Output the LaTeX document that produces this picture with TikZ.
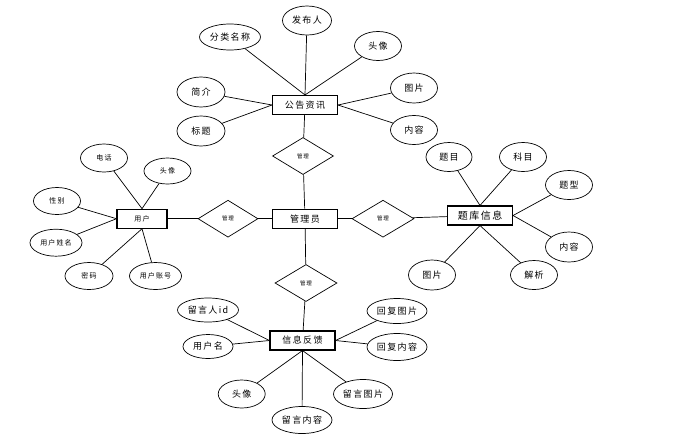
\documentclass[tikz,border=0pt]{standalone}
\usepackage{fontspec}
\setmainfont{Noto Sans CJK SC}[LetterSpace=15]
\usetikzlibrary{shapes.geometric}
\newcommand\bigtxt{\fontsize{9}{10}\selectfont}
\newcommand\smalltxt{\fontsize{7}{8}\selectfont}
\tikzset{
	attr/.style = {draw, ellipse, inner sep=0pt, line width=0.7pt, minimum width=47pt, minimum height=29pt, font=\bigtxt},
	ent/.style = {draw, rectangle, inner sep=0pt, line width=1.1pt, minimum width=65pt, minimum height=19pt, font=\bigtxt},
	rel/.style = {draw, diamond, inner sep=0pt, line width=0.7pt, minimum width=61pt, minimum height=37pt, font=\fontsize{5.5}{6}\selectfont},
	link/.style = {line width=0.7pt}
}
\begin{document}
\begin{tikzpicture}[x=1pt, y=-1pt]
	\useasboundingbox (0,0) rectangle (676,440);
	%center
	\node[ent] (gly) at (305,218.7) {管理员};
	\node[rel] (r1) at (303,156) {管理};
	\node[rel, minimum width=60pt] (r2) at (228,218.7) {管理};
	\node[rel, minimum width=62pt] (r3) at (383,218.7) {管理};
	\node[rel, minimum width=62pt] (r4) at (306,283) {管理};
	
	%公告资讯
	\node[ent] (gg) at (305,105) {公告资讯};
	\node[attr, minimum width=49pt] (gg1) at (307,20.5) {发布人};
	\node[attr, minimum width=61pt, minimum height=26pt] (gg2) at (230,37) {分类名称};
	\node[attr] (gg3) at (378,46) {头像};
	\node[attr, minimum height=30pt] (gg4) at (414,88) {图片};
	\node[attr] (gg5) at (414,130) {内容};
	\node[attr, minimum width=48pt, minimum height=30pt] (gg6) at (201,92) {简介};
	\node[attr, minimum width=48pt, minimum height=30pt] (gg7) at (201,131) {标题};
	\foreach \a in {gg1, gg2, gg3}
	\draw[link] (\a) -- (gg.north);
	\foreach \a in {gg4, gg5}
	\draw[link] (\a) -- (gg.east);
	\foreach \a in {gg6, gg7}
	\draw[link] (\a) -- (gg.west);
	
	%用户
	\node[ent, minimum width=50pt, font=\smalltxt] (yh) at (142,218.7) {用户};
	\node[attr, minimum height=28pt, font=\smalltxt] (yh1) at (104,158) {电话};
	\node[attr, minimum height=26pt, font=\smalltxt] (yh2) at (167.5,171) {头像};
	\node[attr, minimum height=27pt, font=\smalltxt] (yh3) at (57,201) {性别};
	\node[attr, minimum width=52pt, minimum height=27pt, font=\smalltxt] (yh4) at (56,242.7) {用户姓名};
	\node[attr, minimum width=48pt, minimum height=27pt, font=\smalltxt] (yh5) at (89,276) {密码};
	\node[attr, minimum width=52pt, minimum height=27pt, font=\smalltxt] (yh6) at (155.5,276) {用户账号};
	\foreach \a in {yh1, yh2}
	\draw[link] (\a) -- (yh.north);
	\foreach \a in {yh3, yh4}
	\draw[link] (\a) -- (yh.west);
	\foreach \a in {yh5, yh6}
	\draw[link] (\a) -- (yh.south);
	
	%题库信息
	\node[ent, font=\fontsize{10}{11}\selectfont] (tk) at (480,215.5) {题库信息};
	\node[attr, minimum width=46pt] (tk1) at (449,157) {题目};
	\node[attr] (tk2) at (523,157) {科目};
	\node[attr] (tk3) at (569,185) {题型};
	\node[attr, minimum height=30pt] (tk4) at (569,247) {内容};
	\node[attr, minimum height=30pt] (tk5) at (432,275) {图片};
	\node[attr] (tk6) at (534,275) {解析};
	\foreach \a in {tk1, tk2}
	\draw[link] (\a) -- (tk.north);
	\foreach \a in {tk3, tk4}
	\draw[link] (\a) -- (tk.east);
	\foreach \a in {tk5, tk6}
	\draw[link] (\a) -- (tk.south);
	
	%信息反馈
	\node[ent] (fk) at (302.5,340.5) {信息反馈};
	\node[attr, minimum width=61pt, minimum height=24pt] (fk1) at (208,310) {留言人id};
	\node[attr, minimum width=50pt, minimum height=24pt] (fk2) at (208,346.5) {用户名};
	\node[attr, minimum width=60pt, minimum height=25pt] (fk3) at (397,311) {回复图片};
	\node[attr, minimum width=60pt, minimum height=27pt] (fk4) at (397,347) {回复内容};
	\node[attr, minimum height=28pt] (fk5) at (241.7,394) {头像};
	\node[attr, minimum width=59pt] (fk6) at (363,394) {留言图片};
	\node[attr, minimum width=60pt, minimum height=27pt] (fk7) at (302,420) {留言内容};
	\foreach \a in {fk1, fk2}
	\draw[link] (\a) -- (fk.west);
	\foreach \a in {fk3, fk4}
	\draw[link] (\a) -- (fk.east);
	\foreach \a in {fk5, fk6, fk7}
	\draw[link] (\a) -- (fk.south);
	
	%relations
	\draw[link] (gg) -- (r1);
	\draw[link] (r1) -- (gly);
	\draw[link] (yh) -- (r2);
	\draw[link] (r2) -- (gly);
	\draw[link] (gly) -- (r3);
	\draw[link] (r3) -- (tk);
	\draw[link] (gly) -- (r4);
	\draw[link] (r4) -- (fk);
\end{tikzpicture}
\end{document}
